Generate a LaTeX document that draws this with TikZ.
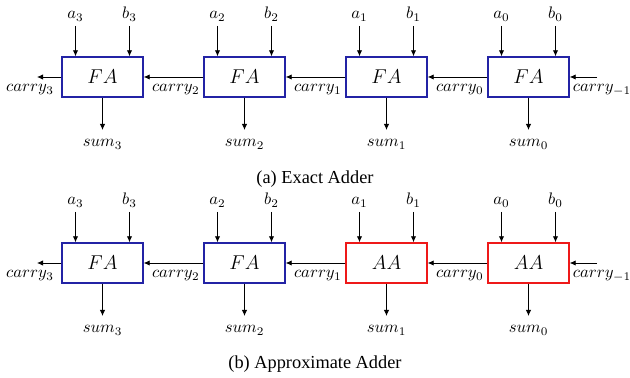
\documentclass[tikz,border=0pt]{standalone}
\usepackage{fontspec}
\setmainfont{Liberation Serif}
\usetikzlibrary{arrows.meta}

\definecolor{fablue}{RGB}{35,35,165}
\definecolor{aared}{RGB}{238,25,25}

\tikzset{
  adder/.style={draw, line width=0.85pt, fill=white, minimum width=48.6pt,
    minimum height=24pt, inner sep=0pt, font=\fontsize{13}{15}\selectfont},
  fabox/.style={adder, draw=fablue},
  aabox/.style={adder, draw=aared},
  sig/.style={-{Latex[length=3.6pt,width=3.2pt]}, line width=0.5pt},
  lbl/.style={anchor=base, inner sep=0pt, font=\fontsize{10}{12}\selectfont},
  caption/.style={anchor=base, inner sep=0pt, font=\fontsize{11}{13}\selectfont}
}

\begin{document}
\begin{tikzpicture}[x=0.6pt, y=-0.6pt]
  \useasboundingbox (0,0) rectangle (630,378);

  % two ripple-carry rows: r = row prefix, dy = vertical offset,
  % s/n = style and name of the two low-order cells
  \foreach \r/\dy/\s/\n in {t/0/fabox/FA, b/186/aabox/AA}{
    % adder cells, most significant on the left
    \node[fabox] (\r3) at (102.5,77+\dy) {$FA$};
    \node[fabox] (\r2) at (244.5,77+\dy) {$FA$};
    \node[\s] (\r1) at (386.5,77+\dy) {$\n$};
    \node[\s] (\r0) at (528.5,77+\dy) {$\n$};

    % operand inputs and sum outputs
    \foreach \i in {0,1,2,3}{
      \coordinate (\r in a\i) at ([xshift=-16.2pt]\r\i.north |- 0,26+\dy);
      \coordinate (\r in b\i) at ([xshift=16.2pt]\r\i.north |- 0,26+\dy);
      \coordinate (\r out s\i) at (\r\i.south |- 0,130+\dy);
      \node[lbl] (\r la\i) at ([yshift=4.2pt]\r in a\i) {$a_{\i}$};
      \node[lbl] (\r lb\i) at ([yshift=4.2pt]\r in b\i) {$b_{\i}$};
      \node[lbl] (\r ls\i) at ([yshift=-10.2pt]\r out s\i) {$sum_{\i}$};
      \draw[sig] (\r in a\i) -- (\r in a\i |- \r\i.north);
      \draw[sig] (\r in b\i) -- (\r in b\i |- \r\i.north);
      \draw[sig] (\r\i.south) -- (\r out s\i);
    }

    % carry chain, right to left
    \coordinate (\r cin) at (597,77+\dy);
    \coordinate (\r cout) at (37,77+\dy);
    \draw[sig] (\r cin) -- (\r0.east);
    \draw[sig] (\r0.west) -- (\r1.east);
    \draw[sig] (\r1.west) -- (\r2.east);
    \draw[sig] (\r2.west) -- (\r3.east);
    \draw[sig] (\r3.west) -- (\r cout);

    \node[lbl] (\r lcm) at (602,92+\dy) {$carry_{-1}$};
    \node[lbl, anchor=base east] (\r lc0) at (484,92+\dy) {$carry_{0}$};
    \node[lbl, anchor=base east] (\r lc1) at (342,92+\dy) {$carry_{1}$};
    \node[lbl, anchor=base east] (\r lc2) at (200,92+\dy) {$carry_{2}$};
    \node[lbl] (\r lc3) at (30,92+\dy) {$carry_{3}$};
  }

  \node[caption] (capa) at (315,184) {(a) Exact Adder};
  \node[caption] (capb) at (315,369) {(b) Approximate Adder};
\end{tikzpicture}
\end{document}
